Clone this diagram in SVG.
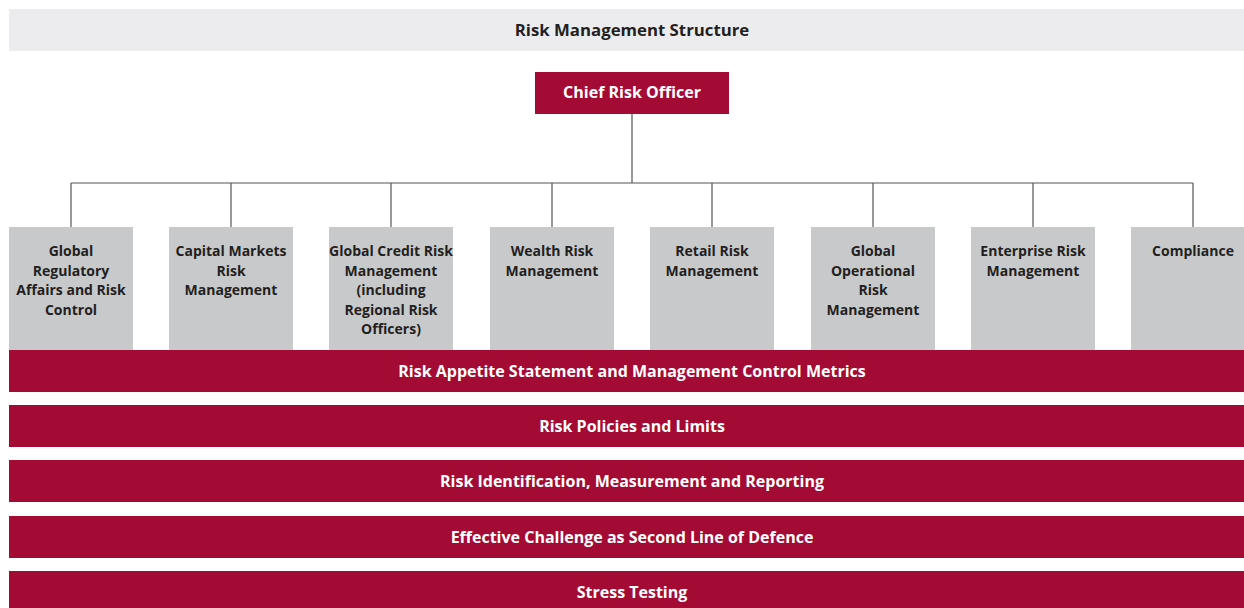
<svg xmlns="http://www.w3.org/2000/svg" width="1244" height="608" viewBox="0 0 1244 608">
<style>
text{font-family:"Open Sans","Liberation Sans",sans-serif;font-weight:700;text-anchor:middle;}
.w{fill:#fff;font-size:16px;}
.d{fill:#231f20;font-size:14px;}
.g{fill:#c8c9cb;}
.r{fill:#a30b35;}
.c{stroke:#555;stroke-width:1.2;fill:none;}
</style>
<rect width="1244" height="608" fill="#fff"/>
<g id="header"><rect x="9" y="9" width="1235" height="42" fill="#ececee"/><text class="d" x="632" y="36" style="font-size:16.8px">Risk Management Structure</text></g>
<g id="connectors">
<path class="c" d="M632 114V183M71 183H1193M71 183V227M231 183V227M391 183V227M552 183V227M712 183V227M873 183V227M1033 183V227M1193 183V227"/>
</g>
<g id="cro"><rect class="r" x="535" y="72" width="194" height="42"/><text class="w" x="632" y="98">Chief Risk Officer</text></g>
<g id="n1"><rect class="g" x="9" y="227" width="124" height="123"/><text class="d" x="71" y="256">Global</text><text class="d" x="71" y="275.5">Regulatory</text><text class="d" x="71" y="295">Affairs and Risk</text><text class="d" x="71" y="314.5">Control</text></g>
<g id="n2"><rect class="g" x="169" y="227" width="124" height="123"/><text class="d" x="231" y="256">Capital Markets</text><text class="d" x="231" y="275.5">Risk</text><text class="d" x="231" y="295">Management</text></g>
<g id="n3"><rect class="g" x="329" y="227" width="124" height="123"/><text class="d" x="391" y="256">Global Credit Risk</text><text class="d" x="391" y="275.5">Management</text><text class="d" x="391" y="295">(including</text><text class="d" x="391" y="314.5">Regional Risk</text><text class="d" x="391" y="334">Officers)</text></g>
<g id="n4"><rect class="g" x="490" y="227" width="124" height="123"/><text class="d" x="552" y="256">Wealth Risk</text><text class="d" x="552" y="275.5">Management</text></g>
<g id="n5"><rect class="g" x="650" y="227" width="124" height="123"/><text class="d" x="712" y="256">Retail Risk</text><text class="d" x="712" y="275.5">Management</text></g>
<g id="n6"><rect class="g" x="811" y="227" width="124" height="123"/><text class="d" x="873" y="256">Global</text><text class="d" x="873" y="275.5">Operational</text><text class="d" x="873" y="295">Risk</text><text class="d" x="873" y="314.5">Management</text></g>
<g id="n7"><rect class="g" x="971" y="227" width="124" height="123"/><text class="d" x="1033" y="256">Enterprise Risk</text><text class="d" x="1033" y="275.5">Management</text></g>
<g id="n8"><rect class="g" x="1131" y="227" width="113" height="123"/><text class="d" x="1193" y="256">Compliance</text></g>
<g id="b1"><rect class="r" x="9" y="350" width="1235" height="42"/><text class="w" x="632" y="376.5">Risk Appetite Statement and Management Control Metrics</text></g>
<g id="b2"><rect class="r" x="9" y="405" width="1235" height="42"/><text class="w" x="632" y="431.5">Risk Policies and Limits</text></g>
<g id="b3"><rect class="r" x="9" y="460" width="1235" height="42"/><text class="w" x="632" y="486.5">Risk Identification, Measurement and Reporting</text></g>
<g id="b4"><rect class="r" x="9" y="516" width="1235" height="42"/><text class="w" x="632" y="542.5">Effective Challenge as Second Line of Defence</text></g>
<g id="b5"><rect class="r" x="9" y="571" width="1235" height="37"/><text class="w" x="632" y="597.5">Stress Testing</text></g>
</svg>
